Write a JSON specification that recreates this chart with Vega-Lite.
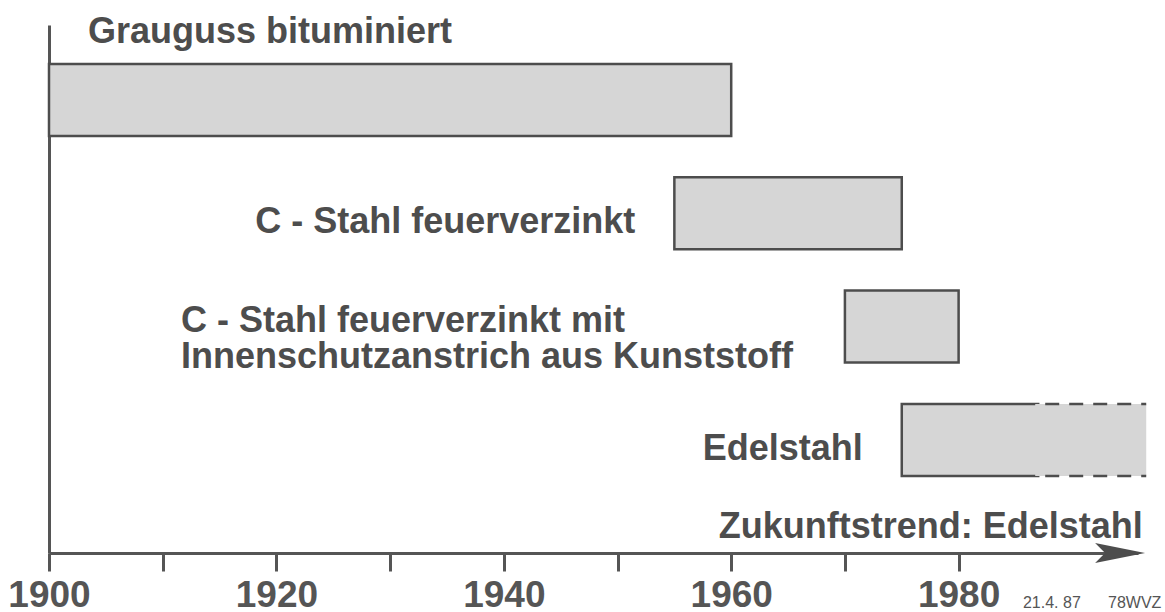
{
  "$schema": "https://vega.github.io/schema/vega-lite/v6.json",
  "width": 1089,
  "height": 528,
  "padding": {"left": 49, "top": 25, "right": 27, "bottom": 59},
  "autosize": {"type": "none"},
  "background": "white",
  "config": {"view": {"stroke": null}, "font": "Liberation Sans"},
  "datasets": {
    "bars": [
      {"label": "Grauguss bituminiert", "start": 1900, "end": 1960},
      {"label": "C - Stahl feuerverzinkt", "start": 1955, "end": 1975},
      {"label": "C - Stahl feuerverzinkt mit\nInnenschutzanstrich aus Kunststoff", "start": 1970, "end": 1980},
      {"label": "Edelstahl", "start": 1975, "end": 1987, "trendEnd": 1996.5}
    ],
    "notes": [
      {"kind": "trend", "note": "Zukunftstrend: Edelstahl", "year": 1996.2},
      {"kind": "small", "note": "21.4. 87", "year": 1985.66},
      {"kind": "small", "note": "78WVZ", "year": 1993.14},
      {"kind": "arrow", "note": "", "year": 1994.2}
    ]
  },
  "layer": [
    {
      "data": {"name": "bars"},
      "mark": {"type": "bar", "height": 72, "fill": "#d6d6d6", "stroke": "#4d4d4d", "strokeWidth": 2.5},
      "encoding": {
        "x": {
          "field": "start", "type": "quantitative",
          "scale": {"domain": [1900, 1995.777], "nice": false, "zero": false},
          "axis": {
            "values": [1900, 1910, 1920, 1930, 1940, 1950, 1960, 1970, 1980],
            "format": "d",
            "labelExpr": "datum.value % 20 === 0 ? datum.label : ''",
            "labelFont": "Liberation Sans", "labelFontSize": 37, "labelFontWeight": "bold",
            "labelColor": "#555555", "labelBaseline": "alphabetic", "labelPadding": 35,
            "labelFlush": false, "labelOverlap": false, "labelBound": false,
            "tickSize": 18, "tickWidth": 3, "tickColor": "#555555",
            "domainWidth": 3, "domainColor": "#555555",
            "grid": false, "title": null
          }
        },
        "x2": {"field": "end"},
        "y": {
          "field": "label", "type": "nominal",
          "scale": {
            "domain": ["Grauguss bituminiert", "C - Stahl feuerverzinkt", "C - Stahl feuerverzinkt mit\nInnenschutzanstrich aus Kunststoff", "Edelstahl"],
            "paddingInner": 0, "paddingOuter": 0.3301, "align": 0.2453
          },
          "axis": {"labels": false, "ticks": false, "title": null, "grid": false, "domainWidth": 3, "domainColor": "#555555"}
        }
      }
    },
    {
      "data": {"name": "bars"},
      "transform": [{"filter": "isValid(datum.trendEnd)"}],
      "mark": {"type": "bar", "height": 72, "fill": "#d6d6d6", "strokeWidth": 0, "xOffset": -3},
      "encoding": {
        "x": {"field": "end", "type": "quantitative"},
        "x2": {"field": "trendEnd"},
        "y": {"field": "label", "type": "nominal"}
      }
    },
    {
      "data": {"name": "bars"},
      "transform": [{"filter": "isValid(datum.trendEnd)"}],
      "mark": {"type": "rule", "color": "#4d4d4d", "strokeWidth": 2.5, "strokeDash": [14, 10], "strokeDashOffset": 17, "yOffset": -36},
      "encoding": {
        "x": {"field": "end", "type": "quantitative"},
        "x2": {"field": "trendEnd"},
        "y": {"field": "label", "type": "nominal"}
      }
    },
    {
      "data": {"name": "bars"},
      "transform": [{"filter": "isValid(datum.trendEnd)"}],
      "mark": {"type": "rule", "color": "#4d4d4d", "strokeWidth": 2.5, "strokeDash": [14, 10], "strokeDashOffset": 17, "yOffset": 36},
      "encoding": {
        "x": {"field": "end", "type": "quantitative"},
        "x2": {"field": "trendEnd"},
        "y": {"field": "label", "type": "nominal"}
      }
    },
    {
      "data": {"name": "bars"},
      "transform": [{"filter": "datum.label === 'Grauguss bituminiert'"}],
      "mark": {"type": "text", "align": "left", "baseline": "alphabetic", "dx": 39, "dy": -57, "fontSize": 36, "fontWeight": "bold", "color": "#4d4d4d"},
      "encoding": {
        "x": {"field": "start", "type": "quantitative"},
        "y": {"field": "label", "type": "nominal"},
        "text": {"field": "label"}
      }
    },
    {
      "data": {"name": "bars"},
      "transform": [{"filter": "datum.label === 'C - Stahl feuerverzinkt' || datum.label === 'Edelstahl'"}],
      "mark": {"type": "text", "align": "right", "baseline": "alphabetic", "dx": -39, "dy": 20, "fontSize": 36, "fontWeight": "bold", "color": "#4d4d4d"},
      "encoding": {
        "x": {"field": "start", "type": "quantitative"},
        "y": {"field": "label", "type": "nominal"},
        "text": {"field": "label"}
      }
    },
    {
      "data": {"name": "bars"},
      "transform": [{"filter": "indexof(datum.label, 'Innenschutz') >= 0"}],
      "mark": {"type": "text", "align": "left", "baseline": "alphabetic", "dx": -664, "dy": 5, "lineBreak": "\n", "lineHeight": 36, "fontSize": 36, "fontWeight": "bold", "color": "#4d4d4d"},
      "encoding": {
        "x": {"field": "start", "type": "quantitative"},
        "y": {"field": "label", "type": "nominal"},
        "text": {"field": "label"}
      }
    },
    {
      "data": {"name": "notes"},
      "transform": [{"filter": "datum.kind === 'trend'"}],
      "mark": {"type": "text", "align": "right", "baseline": "alphabetic", "dy": -15, "fontSize": 36, "fontWeight": "bold", "color": "#4d4d4d"},
      "encoding": {
        "x": {"field": "year", "type": "quantitative"},
        "y": {"value": "height"},
        "text": {"field": "note"}
      }
    },
    {
      "data": {"name": "notes"},
      "transform": [{"filter": "datum.kind === 'small'"}],
      "mark": {"type": "text", "align": "left", "baseline": "alphabetic", "dy": 55, "fontSize": 16, "fontWeight": "normal", "color": "#555555"},
      "encoding": {
        "x": {"field": "year", "type": "quantitative"},
        "y": {"value": "height"},
        "text": {"field": "note"}
      }
    },
    {
      "data": {"name": "notes"},
      "transform": [{"filter": "datum.kind === 'arrow'"}],
      "mark": {"type": "point", "shape": "M-1,-0.4L1,0L-1,0.4L-0.6,0Z", "size": 2500, "filled": true, "color": "#4d4d4d", "opacity": 1},
      "encoding": {
        "x": {"field": "year", "type": "quantitative"},
        "y": {"value": "height"}
      }
    }
  ]
}
